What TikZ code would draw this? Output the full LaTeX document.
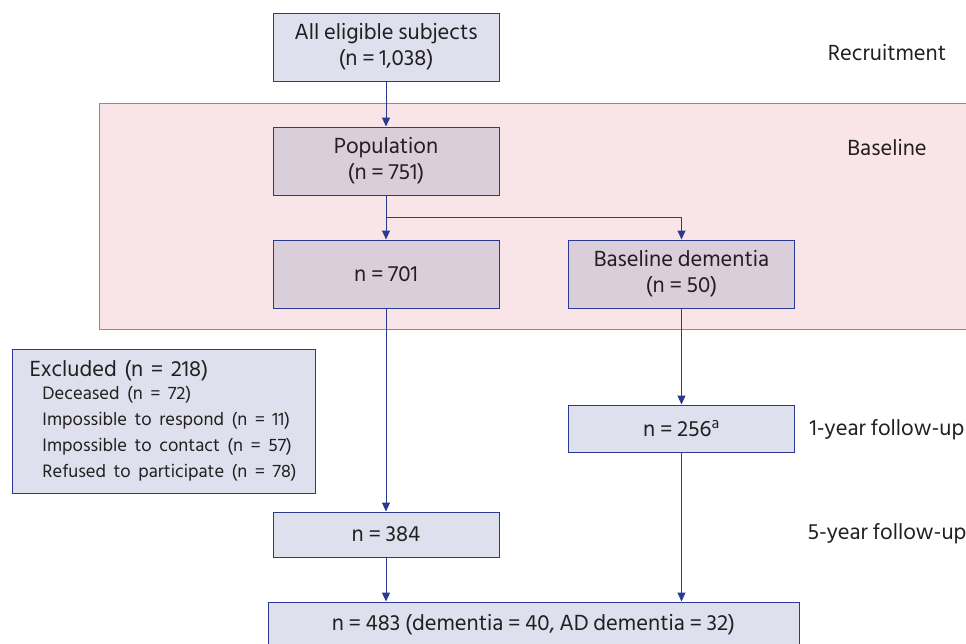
\documentclass[tikz,border=0pt]{standalone}
\usepackage{fontspec}
\setmainfont[WordSpace=0.85]{Hind Madurai}
\usetikzlibrary{arrows.meta}
\definecolor{boxfill}{HTML}{DFE0EE}
\definecolor{boxline}{HTML}{2B3990}
\definecolor{basefill}{HTML}{F9E5E7}
\definecolor{baseedge}{HTML}{E06A6A}
\definecolor{innerfill}{HTML}{DACEDB}
\definecolor{txt}{HTML}{231F20}
\newcommand\exclitem[1]{\fontsize{18.5}{24}\selectfont\hspace*{13pt}#1}
\begin{document}
\begin{tikzpicture}[x=1pt,y=-1pt,
	box/.style={draw=boxline,fill=boxfill,line width=1pt,inner sep=0pt,
		minimum width=226pt,minimum height=68pt,align=center,text=txt,
		font=\fontsize{22.5}{26}\selectfont},
	inbox/.style={box,fill=innerfill},
	stage/.style={text=txt,font=\fontsize{22.5}{26}\selectfont},
	arr/.style={draw=boxline,line width=1pt,-{Triangle[length=9pt,width=8pt]}}]
	\useasboundingbox(0,0)rectangle(966,643);
	\filldraw[fill=basefill,draw=baseedge,line width=1pt](99,103)rectangle(990,329);

	\node[box](all)at(386,47){All eligible subjects\\(n = 1,038)};
	\node[inbox](pop)at(386,161){Population\\(n = 751)};
	\node[inbox](n701)at(386,274){n = 701};
	\node[inbox](dem)at(681.5,274){Baseline dementia\\(n = 50)};
	\node[box,minimum height=47pt](n256)at(681.5,428.5){n = 256\textsuperscript{a}};
	\node[box,minimum height=45pt](n384)at(386,534.5){n = 384};
	\node[box,minimum width=531pt,minimum height=46pt](fin)at(533.5,625){n = 483 (dementia = 40, AD dementia = 32)};
	\node[box,minimum width=303pt,minimum height=144pt,anchor=north west,align=left,text width=269pt](excl)at(12,349){%
		\begin{tabular}{@{}l@{}}
			Excluded (n = 218)\\[-3pt]
			\exclitem{Deceased (n = 72)}\\
			\exclitem{Impossible to respond (n = 11)}\\
			\exclitem{Impossible to contact (n = 57)}\\
			\exclitem{Refused to participate (n = 78)}
		\end{tabular}};

	\node[stage](recr)at(887,53){Recruitment};
	\node[stage](base)at(887,147){Baseline};
	\node[stage](fu1)at(887,430){1-year follow-up};
	\node[stage](fu5)at(887,534){5-year follow-up};

	\coordinate(split)at(386,217);
	\begin{scope}[arr]
		\draw(all)--(pop);
		\draw[-](pop)--(split);
		\draw(split)--(n701);
		\draw(split)-|(dem);
		\draw(n701)--(n384);
		\draw(dem)--(n256);
		\draw(n256)--(n256|-fin.north);
		\draw(n384)--(n384|-fin.north);
	\end{scope}
\end{tikzpicture}
\end{document}
